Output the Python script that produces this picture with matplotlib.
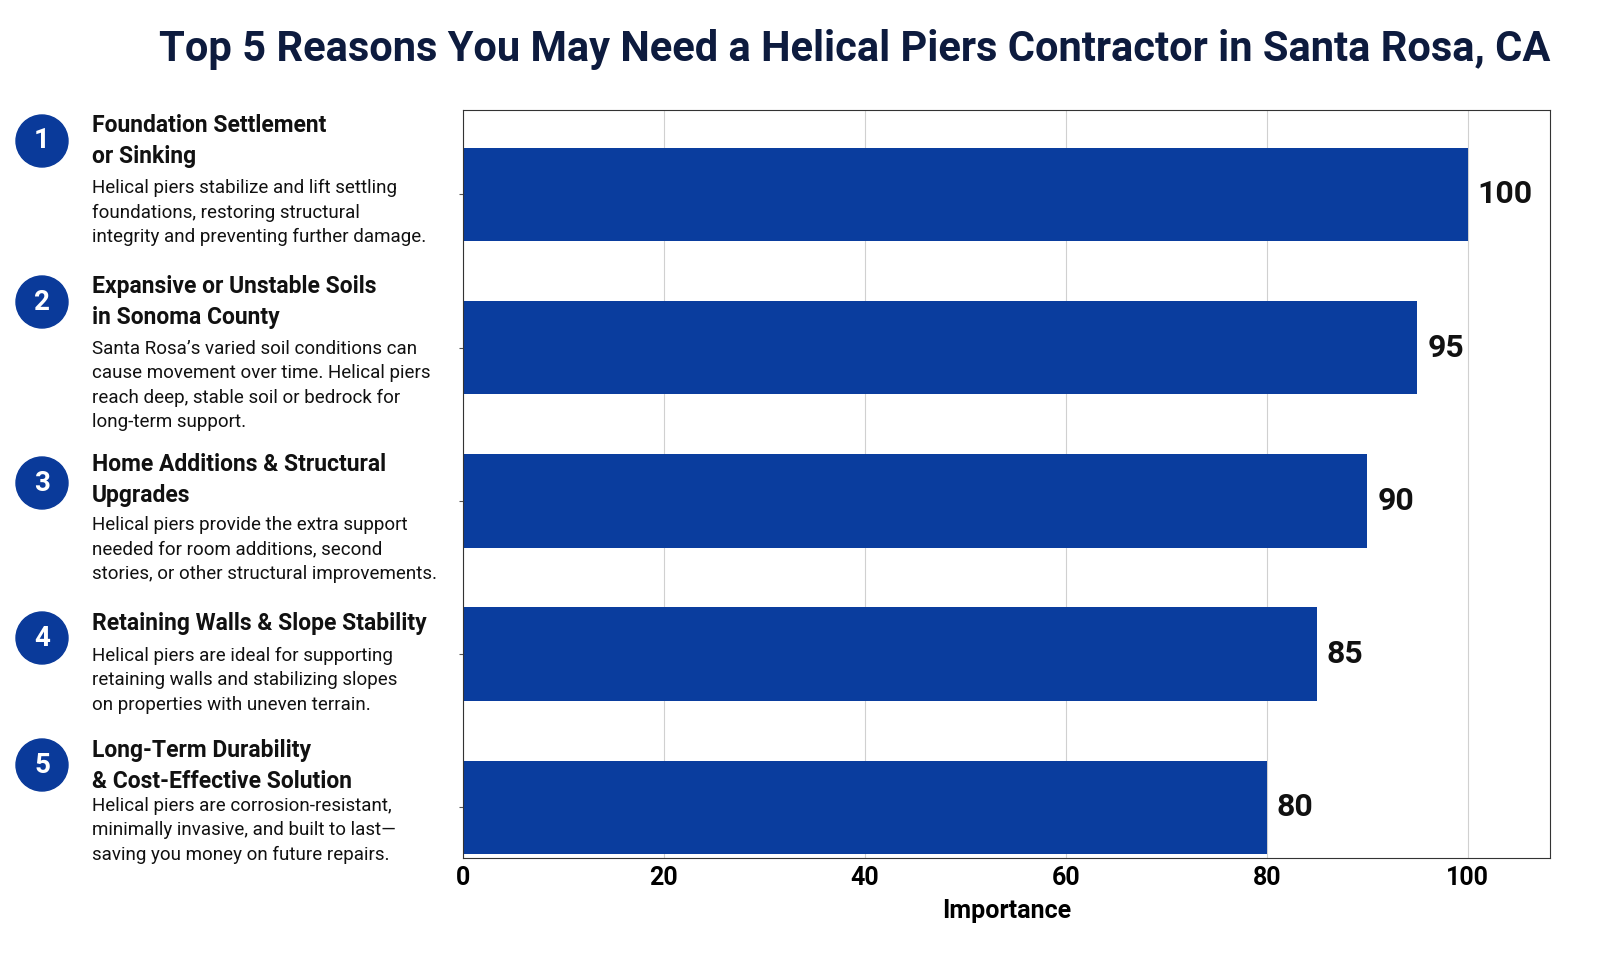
import matplotlib
matplotlib.use("Agg")
import matplotlib.pyplot as plt
from matplotlib.patches import Ellipse

categories = ["Foundation Settlement\nor Sinking", "Expansive or Unstable Soils\nin Sonoma County",
              "Home Additions & Structural\nUpgrades", "Retaining Walls & Slope Stability",
              "Long-Term Durability\n& Cost-Effective Solution"]
descriptions = ["Helical piers stabilize and lift settling\nfoundations, restoring structural\nintegrity and preventing further damage.",
                "Santa Rosa\u2019s varied soil conditions can\ncause movement over time. Helical piers\nreach deep, stable soil or bedrock for\nlong-term support.",
                "Helical piers provide the extra support\nneeded for room additions, second\nstories, or other structural improvements.",
                "Helical piers are ideal for supporting\nretaining walls and stabilizing slopes\non properties with uneven terrain.",
                "Helical piers are corrosion-resistant,\nminimally invasive, and built to last\u2014\nsaving you money on future repairs."]
values = [100, 95, 90, 85, 80]
xticks = [0, 20, 40, 60, 80, 100]

W, H = 1619, 972
fig = plt.figure(figsize=(W/100, H/100), dpi=100)
NARROW = ["Roboto", "DejaVu Sans"]
navy = "#0d1b3e"
blue = "#0a3d9e"

def fx(px): return px / W
def fy(py): return 1 - py / H

ax = fig.add_axes([fx(463), fy(858), fx(1550) - fx(463), fy(110) - fy(858)])
ypos = list(range(len(values)))
ax.barh(ypos, values, height=0.61, color=blue, zorder=2)
ax.set_ylim(4.33, -0.55)
ax.set_xlim(0, 108.2)
ax.set_yticks(ypos)
ax.set_yticklabels([])
ax.tick_params(axis="y", length=3, color="#555")
ax.set_xticks(xticks)
ax.set_xticklabels([str(t) for t in xticks], fontsize=18, fontweight="bold", family=NARROW)
ax.tick_params(axis="x", length=0, pad=6)
ax.grid(axis="x", color="#d0d0d0", linewidth=0.8, zorder=0)
ax.set_xlabel("Importance", fontsize=18, fontweight="bold", family=NARROW, labelpad=6)
for s in ax.spines.values():
    s.set_color("#333")
for y, v in zip(ypos, values):
    ax.text(v + 1.0, y, str(v), va="center", ha="left", fontsize=23, fontweight="bold",
            family=NARROW, color="#111")

fig.text(fx(1550), fy(50), "Top 5 Reasons You May Need a Helical Piers Contractor in Santa Rosa, CA",
         ha="right", va="center", fontsize=30, fontweight="bold", family=NARROW, color=navy)

circle_y = [141, 302, 483, 638, 765]
head_y = [127, 288, 466, 625, 752]
desc_y = [190, 351, 527, 658, 808]
for i in range(5):
    c = Ellipse((fx(42), fy(circle_y[i])), 52 / W, 52 / H, transform=fig.transFigure,
                color="#0a3a9a", zorder=1)
    fig.add_artist(c)
    fig.text(fx(42), fy(circle_y[i]), str(i + 1), ha="center", va="center", color="white",
             fontsize=20, fontweight="bold", family=NARROW, zorder=6)
    fig.text(fx(92), fy(head_y[i] - 13), categories[i], ha="left", va="top", fontsize=16.5,
             fontweight="bold", family=NARROW, color="#111", linespacing=1.45)
    fig.text(fx(92), fy(desc_y[i] - 11), descriptions[i], ha="left", va="top", fontsize=13.5,
             family=NARROW, color="#111", linespacing=1.45)

fig.savefig("out.png", dpi=100)
